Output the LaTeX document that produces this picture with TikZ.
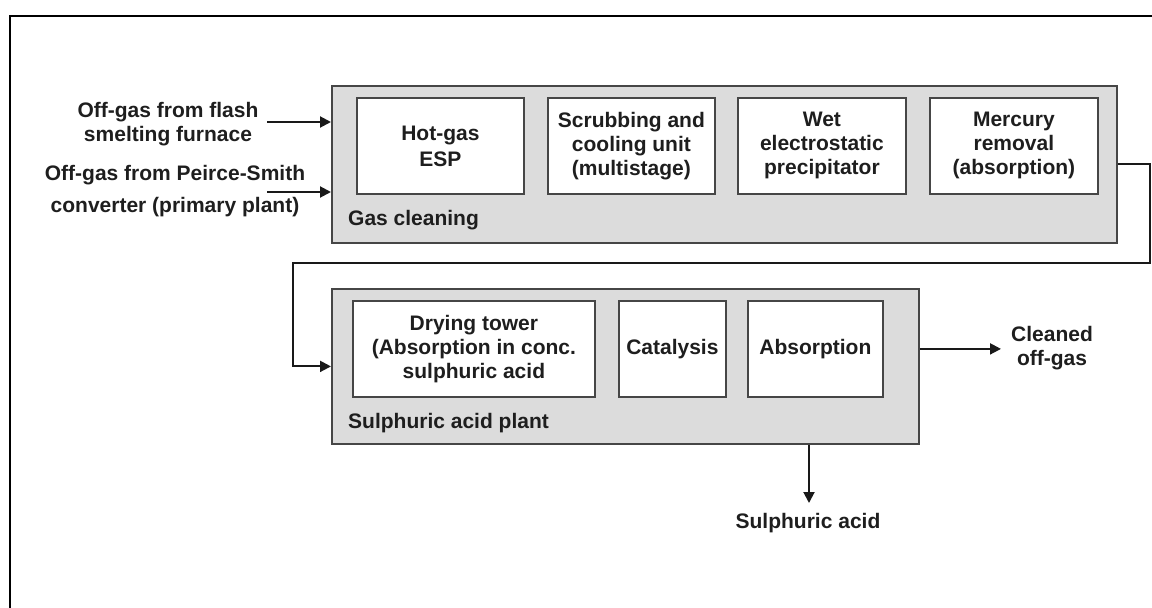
\documentclass[tikz,border=0pt]{standalone}
\usepackage{fontspec}
\setmainfont{Liberation Sans}
\usetikzlibrary{arrows.meta}
\definecolor{boxfill}{RGB}{220,220,220}
\definecolor{boxline}{RGB}{70,70,70}
\definecolor{txt}{RGB}{30,30,30}
\newcommand\diagfont{\fontsize{21bp}{24bp}\selectfont\bfseries}
\tikzset{
  grp/.style={draw=boxline, line width=1.8bp, fill=boxfill, anchor=north west, inner sep=0pt},
  unit/.style={draw=boxline, line width=1.8bp, fill=white, anchor=north west, inner sep=0pt, minimum height=96bp},
  utxt/.style={align=center, text=txt, font=\diagfont, inner sep=0pt},
  lbl/.style={text=txt, font=\diagfont, inner sep=0pt},
  arr/.style={draw=black!90, line width=2bp, -{Triangle[length=11bp,width=11bp]}},
}
\begin{document}
\begin{tikzpicture}[x=1bp,y=-1bp]
\useasboundingbox (0,0) rectangle (1152,608);
% frame (only top and left edges are visible)
\draw[line width=2bp, black] (10,608) -- (10,16) -- (1152,16);

% Gas cleaning group
\node[grp, minimum width=785bp, minimum height=157bp] (gas) at (331,85) {};
\node[lbl, anchor=west] (gaslbl) at (348,220) {Gas cleaning};
\node[unit, minimum width=167bp] (hot) at (356,97) {};
\node[utxt] at (hot.center) {Hot-gas\\[2bp]ESP};
\node[unit, minimum width=167bp] (scrub) at (547,97) {};
\node[utxt] at (scrub.center) {Scrubbing and\\cooling unit\\(multistage)};
\node[unit, minimum width=168bp] (wet) at (737,97) {};
\node[utxt] at (wet.center) {Wet\\electrostatic\\precipitator};
\node[unit, minimum width=168bp] (merc) at (929,97) {};
\node[utxt] at (merc.center) {Mercury\\removal\\(absorption)};

% Sulphuric acid plant group
\node[grp, minimum width=587bp, minimum height=155bp] (sulph) at (331,288) {};
\node[lbl, anchor=west] (sulphlbl) at (348,423) {Sulphuric acid plant};
\node[unit, minimum width=242bp] (dry) at (352,300) {};
\node[utxt] at (dry.center) {Drying tower\\(Absorption in conc.\\sulphuric acid};
\node[unit, minimum width=107bp] (cat) at (618,300) {};
\node[utxt] at (cat.center) {Catalysis};
\node[unit, minimum width=135bp] (abs) at (747,300) {};
\node[utxt] at (abs.center) {Absorption};

% inputs
\node[utxt] (in1) at (168,124) {Off-gas from flash\\smelting furnace};
\node[utxt] (in2) at (175,191) {Off-gas from Peirce-Smith\\[8bp]converter (primary plant)};
\coordinate (s1) at (267,122);
\coordinate (s2) at (267,192);
\draw[arr] (s1) -- (s1 -| gas.west);
\draw[arr] (s2) -- (s2 -| gas.west);

% loop from gas cleaning to acid plant
\coordinate (r1) at (1150,263);
\coordinate (l1) at (293,263);
\draw[arr] (gas.east) -| (r1) -- (l1) |- (sulph.west);

% outputs
\node[utxt] (clean) at (1052,348) {Cleaned\\off-gas};
\coordinate (ce) at (1001,348);
\draw[arr] (abs.east -| sulph.east) -- (abs.east -| ce);
\node[utxt] (acid) at (808,523) {Sulphuric acid};
\coordinate (ae) at (809,503);
\draw[arr] (sulph.south -| ae) -- (ae);
\end{tikzpicture}
\end{document}
